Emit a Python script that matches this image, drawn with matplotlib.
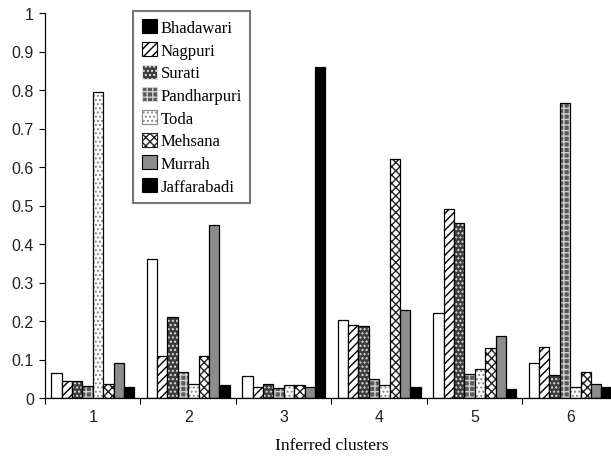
import numpy as np
import matplotlib
matplotlib.use("Agg")
import matplotlib.pyplot as plt
from matplotlib.patches import Patch

clusters = ["1", "2", "3", "4", "5", "6"]
breeds = ["Bhadawari", "Nagpuri", "Surati", "Pandharpuri", "Toda",
          "Mehsana", "Murrah", "Jaffarabadi"]

# proportion of membership per breed in each inferred cluster
bhadawari   = [0.065, 0.360, 0.057, 0.202, 0.222, 0.091]
nagpuri     = [0.044, 0.110, 0.028, 0.190, 0.490, 0.132]
surati      = [0.044, 0.210, 0.036, 0.187, 0.455, 0.060]
pandharpuri = [0.031, 0.067, 0.025, 0.049, 0.062, 0.765]
toda        = [0.795, 0.036, 0.034, 0.034, 0.075, 0.028]
mehsana     = [0.036, 0.110, 0.034, 0.620, 0.130, 0.067]
murrah      = [0.090, 0.450, 0.028, 0.228, 0.160, 0.036]
jaffarabadi = [0.028, 0.034, 0.860, 0.028, 0.023, 0.028]
values = [bhadawari, nagpuri, surati, pandharpuri, toda, mehsana, murrah, jaffarabadi]

# (face, hatch, hatch colour)
styles = [
    ("white",   None,    "black"),
    ("white",   "////",  "black"),
    ("#3c3c3c", "....",  "#e0e0e0"),
    ("#5a5a5a", "+++",   "#cfcfcf"),
    ("white",   "....",  "#8a8a8a"),
    ("white",   "xxxx",  "#222222"),
    ("#8c8c8c", None,    "black"),
    ("black",   None,    "black"),
]

plt.rcParams["hatch.linewidth"] = 1.0

fig = plt.figure(figsize=(6.11, 4.64), dpi=100)
ax = fig.add_axes([45 / 611, 1 - 399 / 464, 573 / 611, 385 / 464])

x = np.arange(len(clusters))
w = 0.109
for i, (vals, (fc, h, hc)) in enumerate(zip(values, styles)):
    pos = x + (i - 3.5) * w
    ax.bar(pos, vals, w, color=fc, hatch=h, edgecolor=hc, linewidth=0)
    ax.bar(pos, vals, w, fill=False, edgecolor="black", linewidth=0.9)

# legend shows Bhadawari as a black square, as in the original figure
handles = []
for i, (fc, h, hc) in enumerate(styles):
    face = "black" if i == 0 else fc
    handles.append(Patch(facecolor=face, hatch=h,
                         edgecolor="black" if h is None else hc, linewidth=0.8))
leg = ax.legend(handles, breeds, loc="upper left", bbox_to_anchor=(0.154, 1.005),
                frameon=True, fancybox=False, edgecolor="#555555",
                prop={"family": "Liberation Serif", "size": 12},
                handlelength=0.9, handleheight=0.9, handletextpad=0.25,
                labelspacing=0.36, borderpad=0.5, borderaxespad=0)
leg.get_frame().set_linewidth(1.5)

ax.set_xlim(-0.5, 5.5)
ax.set_ylim(0, 1)
ax.set_yticks(np.arange(0, 1.01, 0.1))
ax.set_yticklabels(["0", "0.1", "0.2", "0.3", "0.4", "0.5", "0.6", "0.7", "0.8", "0.9", "1"])
ax.set_xticks(x)
ax.set_xticklabels(clusters)
ax.set_xticks(np.arange(-0.5, 5.6, 1), minor=True)
ax.tick_params(axis="x", which="major", length=0, pad=8)
ax.tick_params(axis="x", which="minor", length=4, width=0.8)
ax.tick_params(axis="y", length=4, width=0.8, pad=4)
for lab in ax.get_xticklabels() + ax.get_yticklabels():
    lab.set_family("Liberation Sans")
    lab.set_fontsize(11.5)
    lab.set_color("#222222")
for s in ("top", "right"):
    ax.spines[s].set_visible(False)
for s in ("left", "bottom"):
    ax.spines[s].set_linewidth(0.9)

ax.set_xlabel("Inferred clusters", family="Liberation Serif", fontsize=12.5, labelpad=9)

plt.savefig("out.png", dpi=100)
